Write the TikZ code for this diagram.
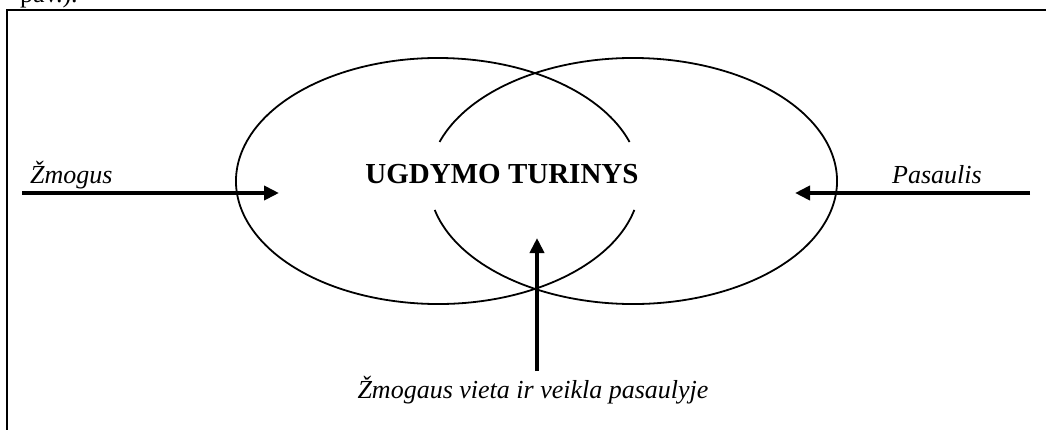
\documentclass[tikz,border=0pt]{standalone}
\usepackage{fontspec}
\setmainfont{Liberation Serif}
\usetikzlibrary{arrows.meta}
\begin{document}
\begin{tikzpicture}[x=1pt,y=-1pt,
  lbl/.style={inner sep=0pt,font=\fontsize{26}{30}\selectfont\itshape},
  title/.style={inner sep=0pt,font=\fontsize{29}{34}\selectfont\bfseries},
  bigarrow/.style={line width=4.4pt,-{Triangle[length=15pt,width=14pt]}},
  oval/.style={line width=1.8pt},
  frame/.style={line width=2pt}]
\useasboundingbox (0,0) rectangle (1046,429);
% frame (partly outside the cropped view)
\draw[frame] (7,445) -- (7,10) -- (1060,10);
\node[inner sep=0pt,anchor=base west,font=\fontsize{26}{30}\selectfont] (cap) at (20,2) {pav.).};
% ellipses with gaps around the title
\draw[oval] (438,181) ++(13.6:202 and 123) arc[start angle=13.6,end angle=341.5,x radius=202,y radius=123];
\draw[oval] (633,181) ++(198.5:204 and 123) arc[start angle=198.5,end angle=526.4,x radius=204,y radius=123];
% title
\node[title,anchor=base] (title) at (502,183) {UGDYMO TURINYS};
% labels
\node[lbl,anchor=base west] (zm) at (30,183) {Žmogus};
\node[lbl,anchor=base west] (pas) at (892,183) {Pasaulis};
\node[lbl,anchor=base] (veik) at (533,398) {Žmogaus vieta ir veikla pasaulyje};
% arrow ends
\coordinate (zmS) at (22,193);
\coordinate (zmE) at (279,193);
\coordinate (pasS) at (1030,193);
\coordinate (pasE) at (795,193);
\coordinate (vS) at (537,371);
\coordinate (vE) at (537,238);
\draw[bigarrow] (zmS) -- (zmE);
\draw[bigarrow] (pasS) -- (pasE);
\draw[bigarrow] (vS) -- (vE);
\end{tikzpicture}
\end{document}
